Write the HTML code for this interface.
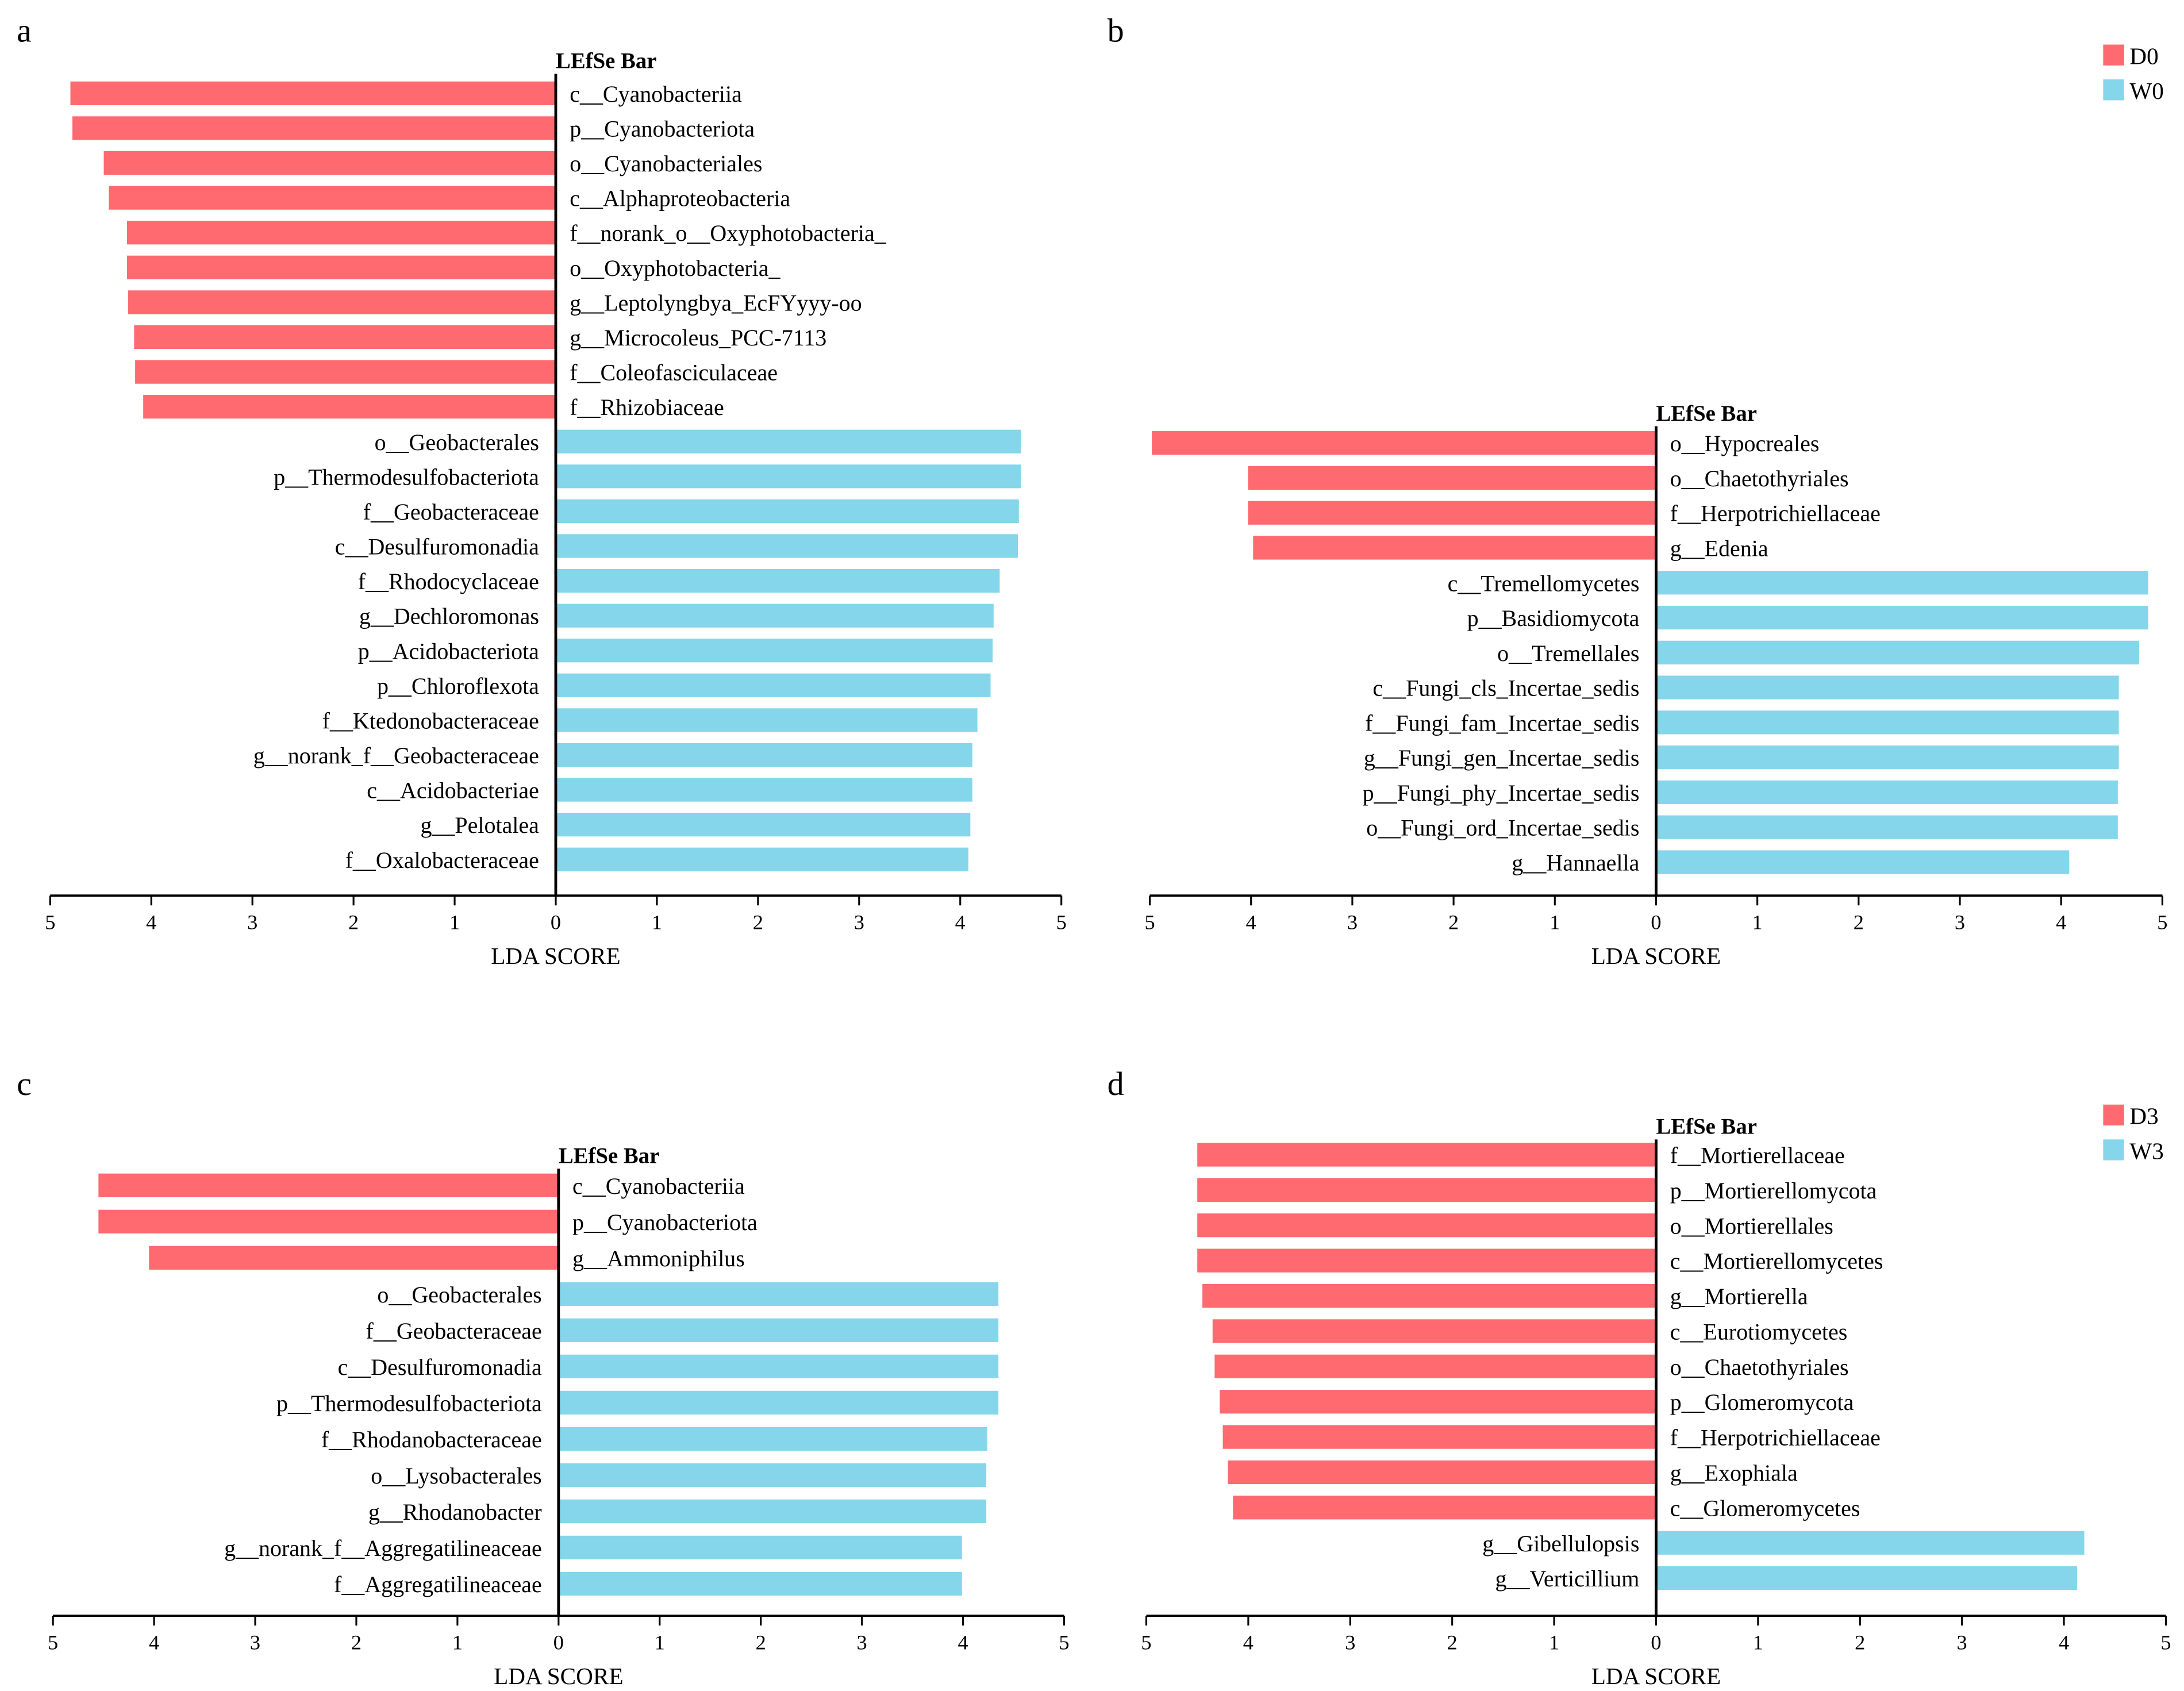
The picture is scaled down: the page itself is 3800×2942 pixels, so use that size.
<!DOCTYPE html>
<html><head><meta charset="utf-8"><style>
html,body{margin:0;padding:0;background:#fff}
svg{display:block}
text{font-family:"Liberation Serif","DejaVu Serif",serif;fill:#000}
</style></head><body>
<svg id="chart" width="3800" height="2942" viewBox="0 0 1568 1214" xmlns="http://www.w3.org/2000/svg">
<rect width="1568" height="1214" fill="#fff"/>
</svg>
<script>
const aLabels=["c__Cyanobacteriia","p__Cyanobacteriota","o__Cyanobacteriales","c__Alphaproteobacteria","f__norank_o__Oxyphotobacteria_","o__Oxyphotobacteria_","g__Leptolyngbya_EcFYyyy-oo","g__Microcoleus_PCC-7113","f__Coleofasciculaceae","f__Rhizobiaceae","o__Geobacterales","p__Thermodesulfobacteriota","f__Geobacteraceae","c__Desulfuromonadia","f__Rhodocyclaceae","g__Dechloromonas","p__Acidobacteriota","p__Chloroflexota","f__Ktedonobacteraceae","g__norank_f__Geobacteraceae","c__Acidobacteriae","g__Pelotalea","f__Oxalobacteraceae"];
const aValues=[-4.8,-4.78,-4.47,-4.42,-4.24,-4.24,-4.23,-4.17,-4.16,-4.08,4.6,4.6,4.58,4.57,4.39,4.33,4.32,4.3,4.17,4.12,4.12,4.1,4.08];
const bLabels=["o__Hypocreales","o__Chaetothyriales","f__Herpotrichiellaceae","g__Edenia","c__Tremellomycetes","p__Basidiomycota","o__Tremellales","c__Fungi_cls_Incertae_sedis","f__Fungi_fam_Incertae_sedis","g__Fungi_gen_Incertae_sedis","p__Fungi_phy_Incertae_sedis","o__Fungi_ord_Incertae_sedis","g__Hannaella"];
const bValues=[-4.98,-4.03,-4.03,-3.98,4.86,4.86,4.77,4.57,4.57,4.57,4.56,4.56,4.08];
const cLabels=["c__Cyanobacteriia","p__Cyanobacteriota","g__Ammoniphilus","o__Geobacterales","f__Geobacteraceae","c__Desulfuromonadia","p__Thermodesulfobacteriota","f__Rhodanobacteraceae","o__Lysobacterales","g__Rhodanobacter","g__norank_f__Aggregatilineaceae","f__Aggregatilineaceae"];
const cValues=[-4.55,-4.55,-4.05,4.35,4.35,4.35,4.35,4.24,4.23,4.23,3.99,3.99];
const dLabels=["f__Mortierellaceae","p__Mortierellomycota","o__Mortierellales","c__Mortierellomycetes","g__Mortierella","c__Eurotiomycetes","o__Chaetothyriales","p__Glomeromycota","f__Herpotrichiellaceae","g__Exophiala","c__Glomeromycetes","g__Gibellulopsis","g__Verticillium"];
const dValues=[-4.5,-4.5,-4.5,-4.5,-4.45,-4.35,-4.33,-4.28,-4.25,-4.2,-4.15,4.2,4.13];
const ticks=[5,4,3,2,1,0,1,2,3,4,5];

const svg=document.getElementById('chart');
const NS="http://www.w3.org/2000/svg";
function mk(tag,attrs,parent){const e=document.createElementNS(NS,tag);for(const k in attrs)e.setAttribute(k,attrs[k]);(parent||svg).appendChild(e);return e;}
function txt(s,attrs,parent){const e=mk('text',attrs,parent);e.textContent=s;return e;}

function panel(id,labels,values,zero,unit,firstY,step,axisY,titleY,letter,lx,ly){
  const g=mk('g',{});
  
  
  const xs=v=>zero+v*unit;
  const lt=txt(letter,{x:lx,y:ly,'font-size':24},g);
  
  
  const tt=txt('LEfSe Bar',{x:zero,y:titleY,'font-size':16,'font-weight':'bold'},g);
  
  
  const bh=17;
  values.forEach((v,i)=>{
    const cy=firstY+i*step;
    const x0=Math.min(xs(0),xs(v)),w=Math.abs(xs(v)-xs(0));
    const r=mk('rect',{x:x0,y:cy-bh/2,width:w,height:bh,fill:v<0?'#fe6a6f':'#85d6ea'},g);
    
    
    const t=txt(labels[i],{x:v<0?zero+10:zero-12,y:cy+6,'font-size':16.5,'text-anchor':v<0?'start':'end'},g);
    
    
  });
  mk('line',{x1:zero,y1:titleY+4,x2:zero,y2:axisY,stroke:'#000','stroke-width':2},g);
  const ax=mk('line',{x1:xs(-5),y1:axisY,x2:xs(5),y2:axisY,stroke:'#000','stroke-width':1.6},g);
  
  
  ticks.forEach((t,i)=>{
    const x=xs(i-5);
    mk('line',{x1:x,y1:axisY,x2:x,y2:axisY+7,stroke:'#000','stroke-width':1.3},g);
    const tl=txt(String(t),{x:x,y:axisY+24,'font-size':15,'text-anchor':'middle'},g);
    
    
  });
  const at=txt('LDA SCORE',{x:zero,y:axisY+49,'font-size':17,'text-anchor':'middle'},g);
  
  
}
panel('a',aLabels,aValues,399,72.6,67,25,643,49,'a',12,30);
panel('b',bLabels,bValues,1189,72.7,318,25.08,643,302,'b',795,30);
panel('c',cLabels,cValues,401,72.6,851,26,1160,835,'c',12,786);
panel('d',dLabels,dValues,1189,73.2,829,25.33,1160,814,'d',795,786);

function legend(y,labels,name){
  const colors=['#fe6a6f','#85d6ea'];
  labels.forEach((l,i)=>{
    const g=mk('g',{});
    
    
    mk('rect',{x:1510,y:y+i*25,width:15,height:15,fill:colors[i]},g);
    txt(l,{x:1529,y:y+i*25+14,'font-size':17},g);
  });
}
legend(32,['D0','W0'],'legend-entry');
legend(793,['D3','W3'],'legend-entry');
</script>
</body></html>
